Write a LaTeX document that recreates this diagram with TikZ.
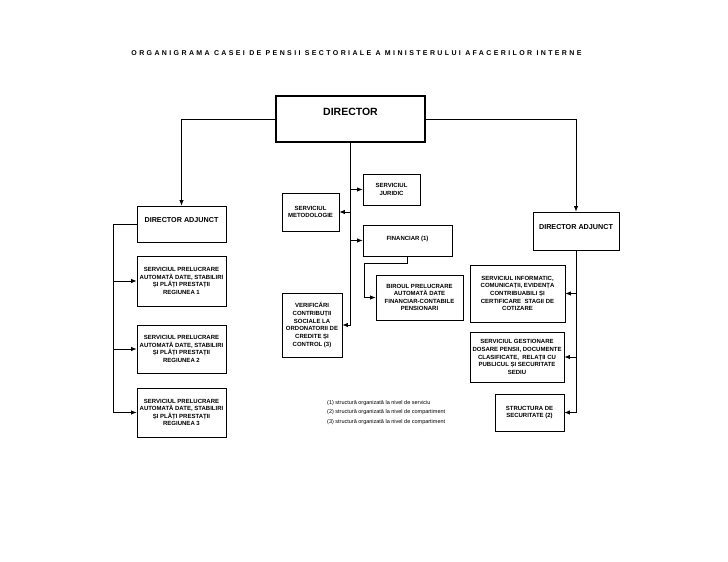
\documentclass[tikz,border=0pt]{standalone}
\usepackage{fontspec}
\setmainfont{Liberation Sans}
\newfontfamily\titlefont[LetterSpace=34]{Liberation Sans}
\usetikzlibrary{arrows.meta}
\begin{document}
\begin{tikzpicture}[x=1pt,y=-1pt,
  box/.style={draw, line width=0.7pt, inner sep=1pt, align=center,
    font=\fontsize{6}{7.6}\selectfont\bfseries},
  dabox/.style={box, font=\fontsize{7.2}{8.5}\selectfont\bfseries},
  arr/.style={-{Latex[length=5.5pt,width=4.4pt]}, line width=0.8pt},
  ln/.style={line width=0.8pt}]
\useasboundingbox[fill=white] (0,0) rectangle (728,562);

\node[font=\titlefont\bfseries\fontsize{7}{8}\selectfont] (title) at (356.5,53)
  {ORGANIGRAMA CASEI DE PENSII SECTORIALE A MINISTERULUI AFACERILOR INTERNE};

\node[box, line width=1.3pt, minimum width=149pt, minimum height=46pt,
  font=\fontsize{10.5}{12}\selectfont\bfseries, text depth=14pt] (director) at (350.5,119) {DIRECTOR};

\node[dabox, minimum width=89pt, minimum height=36pt, text depth=8pt] (daL) at (181.5,224) {DIRECTOR ADJUNCT};
\node[dabox, minimum width=86pt, minimum height=38pt, text depth=9pt] (daR) at (576,231) {DIRECTOR ADJUNCT};

\node[box, minimum width=89pt, minimum height=50pt] (r1) at (181.5,281)
  {SERVICIUL PRELUCRARE\\AUTOMATĂ DATE, STABILIRI\\ȘI PLĂȚI PRESTAȚII\\REGIUNEA 1};
\node[box, minimum width=89pt, minimum height=48pt] (r2) at (181.5,349)
  {SERVICIUL PRELUCRARE\\AUTOMATĂ DATE, STABILIRI\\ȘI PLĂȚI PRESTAȚII\\REGIUNEA 2};
\node[box, minimum width=89pt, minimum height=49pt] (r3) at (181.5,412.5)
  {SERVICIUL PRELUCRARE\\AUTOMATĂ DATE, STABILIRI\\ȘI PLĂȚI PRESTAȚII\\REGIUNEA 3};

\node[box, minimum width=57pt, minimum height=38pt] (metod) at (310.5,212)
  {SERVICIUL\\METODOLOGIE};
\node[box, minimum width=60pt, minimum height=64pt, font=\fontsize{6}{7.9}\selectfont\bfseries] (verif) at (312,325)
  {VERIFICĂRI\\CONTRIBUȚII\\SOCIALE LA\\ORDONATORII DE\\CREDITE ȘI\\CONTROL (3)};
\node[box, minimum width=57pt, minimum height=31pt] (jurid) at (391.5,189.5)
  {SERVICIUL\\JURIDIC};
\node[box, minimum width=89pt, minimum height=31pt, text depth=5pt] (finan) at (407.5,240.5)
  {FINANCIAR (1)};
\node[box, minimum width=87pt, minimum height=45pt] (birou) at (419.5,297.5)
  {BIROUL PRELUCRARE\\AUTOMATĂ DATE\\FINANCIAR-CONTABILE\\PENSIONARI};

\node[box, minimum width=95pt, minimum height=57pt] (inform) at (517.5,293.5)
  {SERVICIUL INFORMATIC,\\COMUNICAȚII, EVIDENȚA\\CONTRIBUABILI ȘI\\CERTIFICARE \ STAGII DE\\COTIZARE};
\node[box, minimum width=94pt, minimum height=50pt] (gest) at (517,357)
  {SERVICIUL GESTIONARE\\DOSARE PENSII, DOCUMENTE\\CLASIFICATE, \ RELAȚII CU\\PUBLICUL ȘI SECURITATE\\SEDIU};
\node[box, minimum width=69pt, minimum height=37pt] (struct) at (529.5,412.5)
  {STRUCTURA DE\\SECURITATE (2)};

\node[anchor=north west, align=left, inner sep=0pt,
  font=\fontsize{5.5}{9.6}\selectfont] (legend) at (327,400)
  {(1) structură organizată la nivel de serviciu\\
   (2) structură organizată la nivel de compartiment\\
   (3) structură organizată la nivel de compartiment};

% director to deputies
\draw[arr] (director.west) -| (daL.north);
\draw[arr] (director.east) -| (daR.north);

% centre trunk
\draw[ln] (director.south) -- (director.south |- verif.east);
\draw[arr] (director.south |- jurid.west) -- (jurid.west);
\draw[arr] (director.south |- metod.east) -- (metod.east);
\draw[arr] (director.south |- finan.west) -- (finan.west);
\draw[arr] (director.south |- verif.east) -- (verif.east);

\coordinate (fb) at (364,263);
\draw[arr] (finan.south) |- (fb) |- (birou.west);

% left trunk
\coordinate (lt) at (113,224);
\draw[ln] (daL.west) -- (lt) -- (lt |- r3.west);
\draw[arr] (lt |- r1.west) -- (r1.west);
\draw[arr] (lt |- r2.west) -- (r2.west);
\draw[arr] (lt |- r3.west) -- (r3.west);

% right trunk
\draw[ln] (daR.south) -- (daR.south |- struct.east);
\draw[arr] (daR.south |- inform.east) -- (inform.east);
\draw[arr] (daR.south |- gest.east) -- (gest.east);
\draw[arr] (daR.south |- struct.east) -- (struct.east);
\end{tikzpicture}
\end{document}
